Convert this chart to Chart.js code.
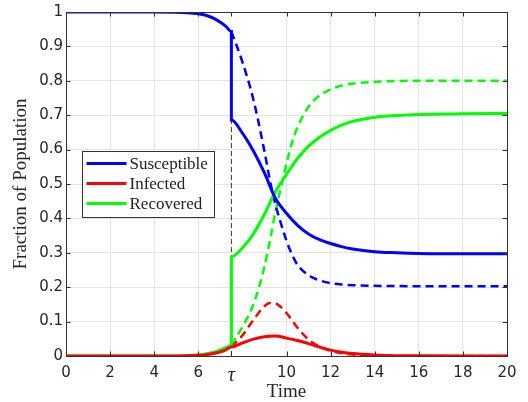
<!DOCTYPE html>
<html>
<head>
<meta charset="UTF-8">
<script src="https://cdn.jsdelivr.net/npm/chart.js"></script>
<style>
  body { margin: 0; background: #fff; }
  #wrap { width: 528px; height: 402px; }
</style>
</head>
<body>
<div id="wrap"><canvas id="sir" width="528" height="402"></canvas></div>
<script>
// time of intervention
const tau = 7.5;

// shared part of the curves, before tau
const tBefore = [0, 1, 2, 3, 4, 5, 5.5, 6, 6.25, 6.5, 6.75, 7, 7.25, 7.5];
const sBefore = [1, 1, 1, 1, 1, 0.9995, 0.998, 0.995, 0.992, 0.987, 0.98, 0.97, 0.958, 0.943];
const iBefore = [0, 0, 0, 0, 0, 0.0002, 0.0008, 0.002, 0.003, 0.005, 0.008, 0.012, 0.018, 0.026];
const rBefore = [0, 0, 0, 0, 0, 0.0003, 0.001, 0.003, 0.005, 0.008, 0.012, 0.018, 0.024, 0.031];

// with intervention (solid), starting right after the jump at tau
const tAfter = [7.5, 8, 8.5, 9, 9.5, 10, 10.5, 11, 11.5, 12, 12.5, 13, 14, 15, 16, 18, 20];
const sSolid = [0.686, 0.648, 0.596, 0.532, 0.458, 0.415, 0.38, 0.355, 0.338, 0.327, 0.318, 0.311, 0.303, 0.3, 0.298, 0.297, 0.297];
const iSolid = [0.026, 0.038, 0.049, 0.056, 0.058, 0.052, 0.045, 0.036, 0.026, 0.017, 0.011, 0.007, 0.003, 0.001, 0.0005, 0, 0];
const rSolid = [0.288, 0.314, 0.355, 0.412, 0.478, 0.528, 0.574, 0.61, 0.636, 0.656, 0.671, 0.682, 0.694, 0.699, 0.702, 0.704, 0.705];

// without intervention (dashed), from tau on
const tDash = [7.5, 8, 8.5, 9, 9.25, 9.5, 9.75, 10, 10.25, 10.5, 11, 11.5, 12, 12.5, 13, 14, 16, 20];
const sDash = [0.943, 0.855, 0.745, 0.595, 0.51, 0.44, 0.385, 0.335, 0.295, 0.265, 0.235, 0.22, 0.212, 0.208, 0.206, 0.204, 0.203, 0.203];
const iDash = [0.026, 0.06, 0.105, 0.145, 0.154, 0.153, 0.142, 0.125, 0.104, 0.082, 0.048, 0.027, 0.015, 0.008, 0.004, 0.001, 0, 0];
const rDash = [0.031, 0.085, 0.15, 0.26, 0.336, 0.42, 0.49, 0.56, 0.62, 0.665, 0.725, 0.757, 0.775, 0.786, 0.792, 0.797, 0.8, 0.8];

const xTicks = [0, 2, 4, 6, tau, 10, 12, 14, 16, 18, 20];
const seriesNames = ['Susceptible', 'Infected', 'Recovered'];
const seriesColors = ['#0000ff', '#ff0000', '#00ff00'];

function pts(t, v) {
  return t.map((x, i) => ({ x: x, y: v[i] }));
}

function solid(t, v, color) {
  return { data: pts(t, v), borderColor: color, borderWidth: 3, order: 1 };
}
function dashed(t, v, color) {
  return { data: pts(t, v), borderColor: color, borderWidth: 2.5, borderDash: [8, 5], order: 2 };
}

const datasets = [
  solid(tBefore.concat(tAfter), sBefore.concat(sSolid), seriesColors[0]),
  solid(tBefore.concat(tAfter), iBefore.concat(iSolid), seriesColors[1]),
  solid(tBefore.concat(tAfter), rBefore.concat(rSolid), seriesColors[2]),
  dashed(tDash, sDash, seriesColors[0]),
  dashed(tDash, iDash, seriesColors[1]),
  dashed(tDash, rDash, seriesColors[2]),
  { data: pts([tau, tau], [0, sSolid[0]]), borderColor: '#333', borderWidth: 1, borderDash: [5, 3], tension: 0, cubicInterpolationMode: 'default', order: 3 }
];

const axisColor = '#333';

// box round the axes, inward ticks, and the legend inside the plot
const boxPlugin = {
  id: 'box',
  afterDraw(chart) {
    const ctx = chart.ctx;
    const a = chart.chartArea;
    const xs = chart.scales.x, ys = chart.scales.y;
    ctx.save();
    ctx.strokeStyle = axisColor;
    ctx.lineWidth = 1;
    ctx.strokeRect(a.left + 0.5, a.top + 0.5, a.right - a.left, a.bottom - a.top);
    const tl = 4.5;
    ctx.beginPath();
    xs.ticks.forEach(t => {
      const px = Math.round(xs.getPixelForValue(t.value)) + 0.5;
      ctx.moveTo(px, a.bottom); ctx.lineTo(px, a.bottom - tl);
      ctx.moveTo(px, a.top); ctx.lineTo(px, a.top + tl);
    });
    ys.ticks.forEach(t => {
      const py = Math.round(ys.getPixelForValue(t.value)) + 0.5;
      ctx.moveTo(a.left, py); ctx.lineTo(a.left + tl, py);
      ctx.moveTo(a.right, py); ctx.lineTo(a.right - tl, py);
    });
    ctx.stroke();

    // legend
    const lx = 82.5, ly = 151.5, lw = 132, lh = 66;
    ctx.fillStyle = '#fff';
    ctx.fillRect(lx, ly, lw, lh);
    ctx.strokeStyle = '#333';
    ctx.strokeRect(lx, ly, lw, lh);
    ctx.font = '17px "Liberation Serif"';
    ctx.textBaseline = 'middle';
    seriesNames.forEach((name, i) => {
      const y = ly + 12 + i * 20;
      ctx.strokeStyle = seriesColors[i];
      ctx.lineWidth = 3;
      ctx.beginPath();
      ctx.moveTo(lx + 4, y); ctx.lineTo(lx + 44, y);
      ctx.stroke();
      ctx.fillStyle = '#222';
      ctx.fillText(name, lx + 47, y + 1);
    });
    ctx.restore();
  }
};

new Chart(document.getElementById('sir'), {
  type: 'line',
  data: { datasets: datasets },
  options: {
    responsive: false,
    animation: false,
    parsing: true,
    layout: { padding: { top: 10, right: 21, left: 0, bottom: 0 } },
    elements: {
      point: { radius: 0 },
      line: { cubicInterpolationMode: 'monotone', fill: false }
    },
    plugins: { legend: { display: false }, tooltip: { enabled: false } },
    scales: {
      x: {
        type: 'linear',
        min: 0,
        max: 20,
        afterFit: s => { s.height = 46; },
        afterBuildTicks: s => { s.ticks = xTicks.map(v => ({ value: v })); },
        border: { display: false },
        grid: {
          drawTicks: false,
          color: c => (c.tick && c.tick.value === tau) ? 'rgba(0,0,0,0)' : '#e3e3e3'
        },
        ticks: {
          padding: 8,
          maxRotation: 0,
          color: '#262626',
          font: c => (c.tick && c.tick.value === tau)
            ? { family: 'Liberation Serif', style: 'italic', size: 20 }
            : { family: 'DejaVu Sans', size: 15 },
          callback: v => v === tau ? 'τ' : String(v)
        },
        title: {
          display: true,
          text: 'Time',
          color: '#262626',
          font: { family: 'Liberation Serif', size: 19, lineHeight: 1 },
          padding: 0
        }
      },
      y: {
        min: 0,
        max: 1,
        afterFit: s => { s.width = 66; },
        border: { display: false },
        grid: { drawTicks: false, color: '#e3e3e3' },
        ticks: {
          stepSize: 0.1,
          padding: 3,
          color: '#262626',
          font: { family: 'DejaVu Sans', size: 15 },
          callback: v => String(+v.toFixed(1))
        },
        title: {
          display: true,
          text: 'Fraction of Population',
          color: '#262626',
          font: { family: 'Liberation Serif', size: 19, lineHeight: 1 },
          padding: { top: 12, bottom: 0 }
        }
      }
    }
  },
  plugins: [boxPlugin]
});
</script>
</body>
</html>
